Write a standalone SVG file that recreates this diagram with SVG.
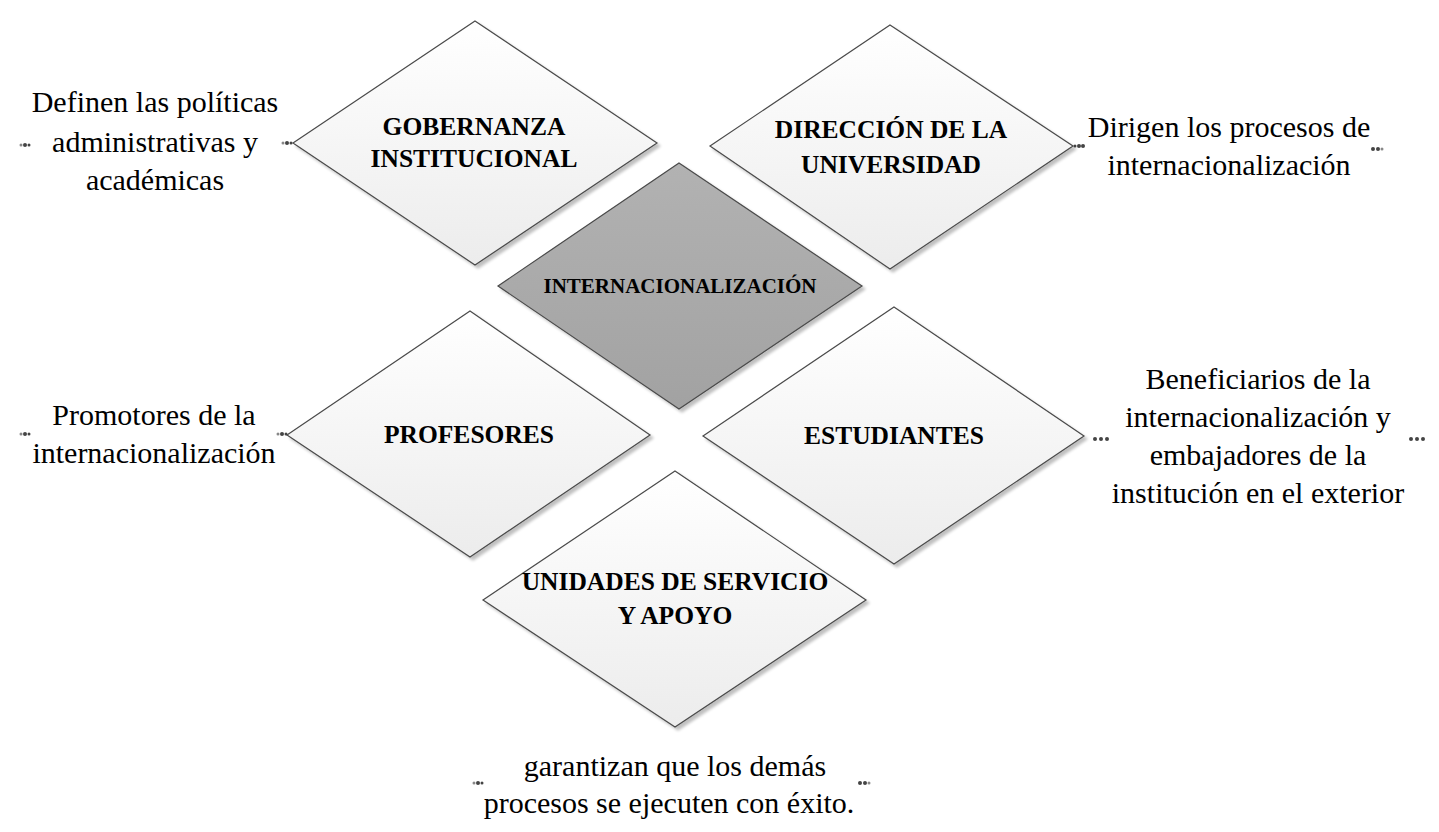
<svg xmlns="http://www.w3.org/2000/svg" width="1439" height="832" viewBox="0 0 1439 832">
<defs>
<linearGradient id="gLight" x1="0" y1="0" x2="0" y2="1">
<stop offset="0" stop-color="#ffffff"/>
<stop offset="1" stop-color="#ececec"/>
</linearGradient>
<linearGradient id="gDark" x1="0" y1="0" x2="0" y2="1">
<stop offset="0" stop-color="#b2b2b2"/>
<stop offset="1" stop-color="#a2a2a2"/>
</linearGradient>
<filter id="sh" x="-5%" y="-5%" width="115%" height="115%">
<feGaussianBlur in="SourceAlpha" stdDeviation="1.5"/>
<feOffset dx="3" dy="3" result="b"/>
<feComponentTransfer><feFuncA type="linear" slope="0.25"/></feComponentTransfer>
<feMerge><feMergeNode/><feMergeNode in="SourceGraphic"/></feMerge>
</filter>
</defs>
<style>
.dl{fill:url(#gLight);stroke:#4a4a4a;stroke-width:1.2;filter:url(#sh)}
.dd{fill:url(#gDark);stroke:#4a4a4a;stroke-width:1.2;filter:url(#sh)}
.lb{font-family:"Liberation Serif","Times New Roman",serif;font-weight:bold;font-size:25.5px;fill:#000;text-anchor:middle}
.lc{font-family:"Liberation Serif","Times New Roman",serif;font-weight:bold;font-size:21px;fill:#000;text-anchor:middle}
.tx{font-family:"Liberation Serif","Times New Roman",serif;font-size:30px;fill:#000;text-anchor:middle}
.dot{fill:#444}
.dotl{fill:#888}
</style>
<rect width="1439" height="832" fill="#ffffff"/>
<g id="connectors">
<circle class="dotl" cx="21" cy="145" r="1.5"/><circle class="dot" cx="25" cy="145" r="2"/><circle class="dot" cx="29" cy="145" r="1.5"/>
<circle class="dotl" cx="283" cy="143" r="1.5"/><circle class="dot" cx="287" cy="143" r="2"/><circle class="dot" cx="291" cy="143" r="1.5"/>
<circle class="dot" cx="1075" cy="146" r="1.5"/><circle class="dot" cx="1079" cy="146" r="2"/><circle class="dot" cx="1083" cy="146" r="2"/>
<circle class="dot" cx="1373" cy="149" r="2"/><circle class="dot" cx="1378" cy="149" r="2"/><circle class="dotl" cx="1382" cy="149" r="1.5"/>
<circle class="dotl" cx="21" cy="434" r="1.5"/><circle class="dot" cx="25" cy="434" r="2"/><circle class="dot" cx="29" cy="434" r="1.5"/>
<circle class="dotl" cx="278" cy="434" r="1.5"/><circle class="dot" cx="282" cy="434" r="2"/><circle class="dot" cx="286" cy="434" r="1.5"/>
<circle class="dot" cx="1095" cy="439" r="2"/><circle class="dot" cx="1101" cy="439" r="2"/><circle class="dot" cx="1107" cy="439" r="2"/>
<circle class="dot" cx="1411" cy="439" r="2"/><circle class="dot" cx="1417" cy="439" r="2"/><circle class="dot" cx="1423" cy="439" r="2"/>
<circle class="dotl" cx="474" cy="783" r="1.5"/><circle class="dot" cx="478" cy="783" r="2"/><circle class="dot" cx="482" cy="783" r="1.5"/>
<circle class="dot" cx="860" cy="783" r="2"/><circle class="dot" cx="865" cy="783" r="2"/><circle class="dotl" cx="869" cy="783" r="1.5"/>
</g>
<g id="gobernanza">
<polygon class="dl" points="475,21 657,143 475,265 293,143"/>
<text class="lb" x="474" y="135">GOBERNANZA</text>
<text class="lb" x="474" y="167">INSTITUCIONAL</text>
</g>
<g id="direccion">
<polygon class="dl" points="890,25 1073,146 890,269 710,146"/>
<text class="lb" x="891" y="138">DIRECCIÓN DE LA</text>
<text class="lb" x="891" y="173">UNIVERSIDAD</text>
</g>
<g id="internacionalizacion">
<polygon class="dd" points="679,163 862,286 679,409 498,286"/>
<text class="lc" x="680" y="293">INTERNACIONALIZACIÓN</text>
</g>
<g id="profesores">
<polygon class="dl" points="470,311 650,435 470,557 287,435"/>
<text class="lb" x="469" y="443">PROFESORES</text>
</g>
<g id="estudiantes">
<polygon class="dl" points="894,307 1084,436 894,564 703,436"/>
<text class="lb" x="894" y="444">ESTUDIANTES</text>
</g>
<g id="unidades">
<polygon class="dl" points="675,471 866,600 675,727 483,600"/>
<text class="lb" x="675" y="590">UNIDADES DE SERVICIO</text>
<text class="lb" x="675" y="624">Y APOYO</text>
</g>
<g id="texto-gobernanza">
<text class="tx" x="155" y="112">Definen las políticas</text>
<text class="tx" x="155" y="152">administrativas y</text>
<text class="tx" x="155" y="190">académicas</text>
</g>
<g id="texto-direccion">
<text class="tx" x="1229" y="137">Dirigen los procesos de</text>
<text class="tx" x="1229" y="175">internacionalización</text>
</g>
<g id="texto-profesores">
<text class="tx" x="154" y="425">Promotores de la</text>
<text class="tx" x="154" y="463">internacionalización</text>
</g>
<g id="texto-estudiantes">
<text class="tx" x="1258" y="389">Beneficiarios de la</text>
<text class="tx" x="1258" y="427">internacionalización y</text>
<text class="tx" x="1258" y="465">embajadores de la</text>
<text class="tx" x="1258" y="503">institución en el exterior</text>
</g>
<g id="texto-unidades">
<text class="tx" x="675" y="776">garantizan que los demás</text>
<text class="tx" x="669" y="813">procesos se ejecuten con éxito.</text>
</g>
</svg>
